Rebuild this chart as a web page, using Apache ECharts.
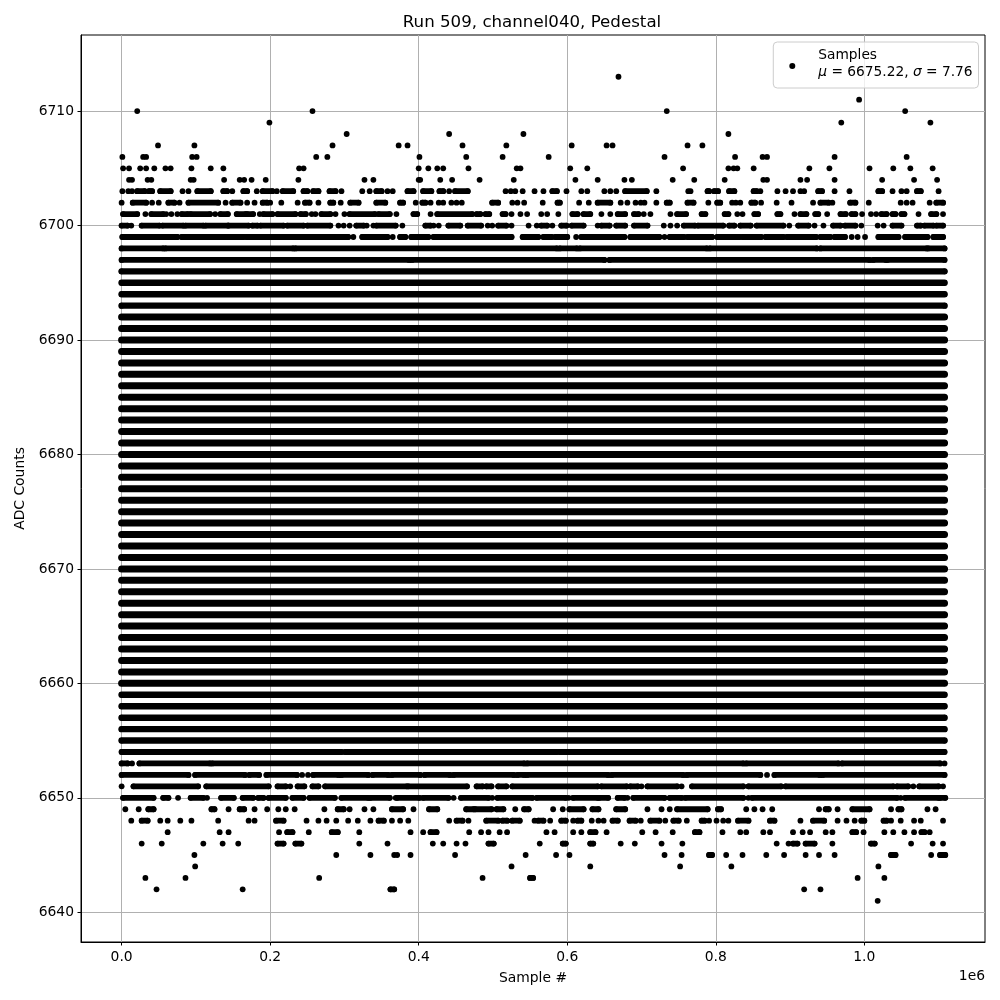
<!DOCTYPE html>
<html>
<head>
<meta charset="utf-8">
<style>html,body{margin:0;padding:0;background:#fff}#c{width:1000px;height:1000px}</style>
<script src="https://cdn.jsdelivr.net/npm/echarts@6/dist/echarts.min.js"></script>
</head>
<body>
<div id="c"></div>
<script>
// Sample positions are in thousands of samples, per ADC level.
// A number is a lone dot, a pair is an unbroken run of dots.
const row6713=[669];
const row6711=[993];
const row6710=[21,257,734,1055];
const row6709=[199,969,1089];
const row6708=[303,441,541,817];
const row6707=[49,98,284,373,385,459,518,606,653,661,762,782];
const row6706=[1,29,33,95,101,262,277,401,464,513,575,731,826,863,869,960,1057];
const row6705=[2,10,25,33,44,59,66,94,120,137,239,245,400,413,425,433,467,532,537,604,627,756,817,824,829,851,926,953,1007,1039,1062,1092];
const row6704=[10,14,35,40,93,97,138,159,165,175,194,238,327,339,400,402,429,445,482,528,611,641,677,687,742,771,812,864,869,914,923,960,1024,1067,1098];
const row6703=[1,9,14,[21,31],[37,41],[52,66],82,90,[102,120],[137,142],149,[164,169],182,[190,203],209,[217,231],[245,250],[258,265],[280,288],296,324,334,[343,350],358,365,[385,393],[406,417],[428,433],441,[449,466],517,524,530,540,556,568,[580,586],599,619,627,650,658,666,[678,707],720,763,766,[789,791],[798,803],[818,825],[851,855],860,883,894,904,914,919,[938,943],960,980,[1019,1024],1038,1050,1057,[1071,1076],1100];
const row6702=[0,[15,33],41,50,[63,71],78,[90,130],140,[149,160],169,179,[190,196],200,215,237,[247,253],265,[281,285],295,[308,319],[343,355],[375,379],396,[405,409],416,427,433,444,451,458,[499,507],526,533,542,567,[587,590],616,629,[641,658],672,681,692,699,704,720,[734,738],[762,770],790,[802,806],822,827,833,[848,853],861,882,902,931,[941,952],957,[981,988],1006,1049,1057,1065,1088,[1097,1106]];
const row6701=[[2,21],32,[40,56],60,67,75,[81,89],[93,119],126,[133,143],[155,167],[169,177],186,[191,203],[210,234],[241,248],256,261,[269,281],288,300,[307,341],[346,361],370,[393,398],416,[425,472],[478,483],[490,495],[513,517],525,537,546,565,573,588,[607,614],[622,631],646,658,[668,678],[690,696],703,712,739,[748,760],[781,786],[812,817],829,836,[852,857],[883,887],906,[914,922],[934,938],950,[968,975],[983,988],997,1009,1016,[1023,1030],[1038,1042],[1050,1054],1073,[1090,1097],1106];
const row6700=[[0,8],13,[27,51],[55,83],[86,110],[113,143],[144,171],[176,183],[187,218],[223,245],[250,281],292,299,307,[316,326],330,339,[343,369],378,[409,416],420,427,[440,456],[466,484],493,499,[507,518],525,548,559,[565,573],580,[592,599],[606,622],641,[646,657],[666,678],[690,708],730,739,748,[757,772],[776,810],[818,825],[833,847],[855,891],899,[911,925],933,945,[958,968],[974,988],996,1018,1026,[1038,1050],[1071,1076],[1081,1093],[1097,1106]];
const row6699=[[1,75],[81,164],[168,305],312,[324,358],365,[375,382],[390,413],[420,525],[540,561],[568,579],[584,600],612,[619,677],[685,724],731,[738,757],[762,795],[802,832],[836,861],[867,891],[896,935],[941,954],[960,974],983,991,1001,[1019,1046],[1055,1085],[1093,1106]];
const row6698=[[0,56],[59,231],[234,586],[590,613],[617,788],[792,936],[941,1084],[1086,1108]];
const row6697=[[0,387],[391,650],[657,1007],[1012,1029],[1031,1108]];
const row6654=[[0,296],[301,586],[590,1108]];
const row6653=[[0,8],14,[24,119],[122,542],[546,837],[841,965],[970,1102],1108];
const row6652=[[0,90],[99,166],[172,185],[195,236],243,251,[258,292],[296,332],[338,359],[364,402],[408,442],[447,528],[533,542],[546,655],[660,756],[761,860],869,[879,940],[944,1108]];
const row6651=[0,[16,103],[114,198],[210,221],227,[237,246],[257,265],[274,384],[386,465],[478,486],[491,498],[507,518],[526,641],[646,680],[685,695],700,[708,748],754,[768,837],[844,888],[894,1039],[1044,1059],1066,[1074,1100],1106];
const row6650=[[2,43],[56,63],76,[93,110],115,[134,151],[163,177],[184,191],[198,221],[230,245],[253,287],[296,332],[335,361],369,[371,401],[406,440],447,[457,494],499,[506,553],[559,598],602,[608,641],[643,655],[668,677],681,[689,731],[738,754],[759,837],844,[849,1044],1049,[1055,1100],[1102,1109]];
const row6649=[5,23,[36,43],[121,125],144,[159,165],179,196,211,221,233,273,[291,299],307,327,339,[364,379],393,[414,425],[464,474],[476,498],[505,514],530,[542,548],581,594,[603,622],[634,642],[666,678],708,727,738,[748,789],[803,807],841,852,863,876,939,[948,952],964,[984,1007],1036,[1046,1050],1085,1096];
const row6648=[13,[27,35],52,62,79,94,130,171,179,[208,218],249,265,276,289,305,318,335,[346,353],364,375,386,441,[451,459],467,[491,507],[513,519],[526,536],556,[561,568],577,[592,598],608,[614,619],633,642,649,[661,668],[684,692],699,[712,724],732,[743,750],761,[781,785],791,801,810,817,[830,844],[873,879],914,[931,946],964,976,987,[996,1000],[1026,1030],1036,1049,1067,1076,1106];
const row6647=[62,132,144,212,[223,230],252,[283,291],320,389,406,[416,424],468,484,494,509,519,572,583,608,619,[631,638],653,701,719,742,[772,778],809,833,841,864,873,904,917,927,948,957,[984,989],999,1027,1039,1054,1067,[1077,1081],1088];
const row6646=[27,54,110,136,157,[210,218],[234,242],320,358,419,433,451,463,[494,501],563,[594,598],[631,635],672,691,727,755,882,898,[904,910],[921,933],957,[1009,1014],1063,1092,1106];
const row6645=[98,289,335,367,371,389,449,544,585,603,731,754,[791,795],814,836,868,892,921,939,960,[1036,1042],1090,[1102,1109]];
const row6644=[99,525,631,752,821,1019];
const row6643=[32,86,266,486,[550,554],991,1027];
const row6642=[47,163,[362,367],919,941];
const row6641=[1018];
// Levels whose dots merge into one bar across the whole run.
const solidLevels=[6655,6656,6657,6658,6659,6660,6661,6662,6663,6664,6665,6666,6667,6668,6669,6670,6671,6672,6673,6674,6675,6676,6677,6678,6679,6680,6681,6682,6683,6684,6685,6686,6687,6688,6689,6690,6691,6692,6693,6694,6695,6696];
const solidExtent=[0,1108];

const rows={6713:row6713,6711:row6711,6710:row6710,6709:row6709,6708:row6708,6707:row6707,6706:row6706,6705:row6705,6704:row6704,6703:row6703,6702:row6702,6701:row6701,6700:row6700,6699:row6699,6698:row6698,6697:row6697,6654:row6654,6653:row6653,6652:row6652,6651:row6651,6650:row6650,6649:row6649,6648:row6648,6647:row6647,6646:row6646,6645:row6645,6644:row6644,6643:row6643,6642:row6642,6641:row6641};
solidLevels.forEach(l=>{rows[l]=[solidExtent]});

const xTicks=[0,200000,400000,600000,800000,1000000];
const yTicks=[6640,6650,6660,6670,6680,6690,6700,6710];
const titleText='Run 509, channel040, Pedestal';
const xName='Sample #', yName='ADC Counts', xOffsetText='1e6';
const statMean='6675.22', statSigma='7.76';

// Bar thickness grows with how many dots pile up on a level.
const barClass=y=>(y>=6660&&y<=6692)?7:((y>=6655&&y<=6696)?6.4:5.8);
const dots=[], bars={7:[],6.4:[],5.8:[]};
Object.keys(rows).forEach(k=>{
  const y=+k, b=bars[barClass(y)];
  rows[k].forEach(e=>{
    if(Array.isArray(e)){
      dots.push([e[0]*1000,y],[e[1]*1000,y]);
      b.push([e[0]*1000,y],[e[1]*1000,y],[e[1]*1000,NaN]);
    }else dots.push([e*1000,y]);
  });
});

const FONT='"DejaVu Sans"';
const barSeries=w=>({name:'bars'+w,type:'line',data:bars[w],showSymbol:false,symbol:'none',silent:true,
  connectNulls:false,sampling:false,lineStyle:{color:'#000',width:w,cap:'round',join:'round'},z:3});
const chart=echarts.init(document.getElementById('c'),null,{renderer:'canvas'});
chart.setOption({
  animation:false,
  backgroundColor:'#fff',
  textStyle:{fontFamily:FONT},
  title:{text:titleText,left:527,top:8.7,textAlign:'center',
    textStyle:{fontFamily:FONT,fontSize:16.67,fontWeight:'normal',color:'#000'}},
  grid:{left:81,right:15,top:35,bottom:58,show:true,borderColor:'#000',borderWidth:1,backgroundColor:'#fff'},
  legend:{
    show:true,data:[{name:'Samples',icon:'circle'}],
    right:21.5,top:42,orient:'vertical',
    itemWidth:6,itemHeight:6,itemGap:0,
    padding:[6,6,9,16],
    backgroundColor:'rgba(255,255,255,0.8)',borderColor:'#ccc',borderWidth:1,borderRadius:4,
    formatter:()=>'{a|Samples}\n{b|μ}{a| = '+statMean+', }{b|σ}{a| = '+statSigma+'}',
    textStyle:{color:'#000',fontFamily:FONT,fontSize:13.75,padding:[0,0,5,18],
      rich:{a:{fontFamily:FONT,fontSize:13.75,color:'#000',lineHeight:17},
            b:{fontFamily:FONT,fontSize:13.75,fontStyle:'italic',color:'#000',lineHeight:17}}}
  },
  xAxis:{type:'value',min:-54700,max:1162500,
    name:xName,nameLocation:'middle',nameGap:29,
    nameTextStyle:{fontFamily:FONT,fontSize:13.89,color:'#000'},
    axisLine:{show:true,onZero:false,lineStyle:{color:'#000',width:1}},
    axisTick:{show:true,length:3.5,customValues:xTicks,lineStyle:{color:'#000',width:1}},
    axisLabel:{show:true,customValues:xTicks,margin:8.5,color:'#000',fontFamily:FONT,fontSize:13.89,
      formatter:v=>(v/1e6).toFixed(1)},
    splitLine:{show:true,lineStyle:{color:'#b0b0b0',width:1}},minorTick:{show:false}},
  yAxis:{type:'value',min:6637.4,max:6716.65,
    name:yName,nameLocation:'middle',nameGap:50,nameRotate:90,
    nameTextStyle:{fontFamily:FONT,fontSize:13.89,color:'#000'},
    axisLine:{show:true,onZero:false,lineStyle:{color:'#000',width:1}},
    axisTick:{show:true,length:3.5,customValues:yTicks,lineStyle:{color:'#000',width:1}},
    axisLabel:{show:true,customValues:yTicks,margin:7,color:'#000',fontFamily:FONT,fontSize:13.89,
      formatter:v=>String(v)},
    splitLine:{show:true,lineStyle:{color:'#b0b0b0',width:1}}},
  graphic:[{type:'text',right:15,top:969,silent:true,
    style:{text:xOffsetText,fontFamily:FONT,fontSize:13.89,fill:'#000'}}],
  series:[
    {name:'Samples',type:'scatter',data:dots,symbol:'circle',symbolSize:5.8,
      itemStyle:{color:'#000',opacity:1},large:false,silent:true,z:3},
    barSeries(7),barSeries(6.4),barSeries(5.8)
  ]
});
</script>
</body>
</html>
